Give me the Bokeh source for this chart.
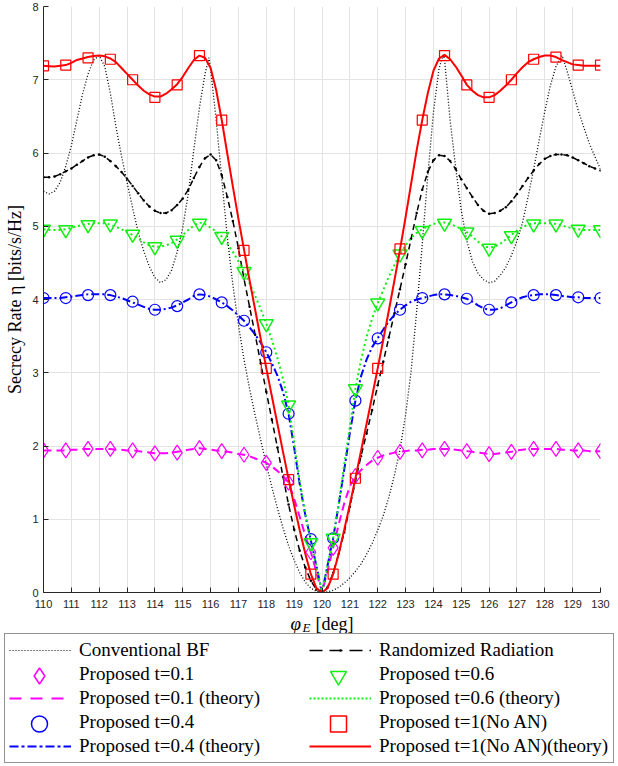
import numpy as np
from bokeh.plotting import figure
from bokeh.models import Range1d, Legend, LegendItem, Label, FixedTicker
from bokeh.embed import file_html
from bokeh.resources import INLINE

# ---------------- data ----------------
theory_deg = np.linspace(110, 130, 101)   # theory curves, 0.2 deg grid
marker_deg = np.linspace(110, 130, 26)    # simulation markers, 0.8 deg grid

conv_deg = [110.0, 110.2, 110.4, 110.6, 110.8, 111.0, 111.2, 111.4, 111.6, 111.8,
            112.0, 112.2, 112.4, 112.6, 112.8, 113.0, 113.2, 113.4, 113.6, 113.8,
            114.0, 114.2, 114.4, 114.6, 114.8, 115.0, 115.2, 115.4, 115.6, 115.8,
            115.94, 116.0, 116.2, 116.4, 116.6, 116.8, 117.0, 117.2, 117.4, 117.6,
            117.8, 118.0, 118.2, 118.4, 118.6, 118.8, 119.0, 119.2, 119.4, 119.6,
            119.8, 120.0, 120.2, 120.4, 120.6, 120.8, 121.0, 121.2, 121.4, 121.6,
            121.8, 122.0, 122.2, 122.4, 122.6, 122.8, 123.0, 123.2, 123.4, 123.6,
            123.8, 124.0, 124.2, 124.35, 124.4, 124.6, 124.8, 125.0, 125.2, 125.4,
            125.6, 125.8, 126.0, 126.2, 126.4, 126.6, 126.8, 127.0, 127.2, 127.4,
            127.6, 127.8, 128.0, 128.2, 128.4, 128.62, 128.8, 129.0, 129.2, 129.4,
            129.6, 129.8, 130.0]
conv_rate = [5.48, 5.44, 5.48, 5.60, 5.82, 6.10, 6.45, 6.80, 7.08, 7.27,
             7.33, 7.18, 6.82, 6.36, 5.96, 5.60, 5.25, 4.92, 4.66, 4.45,
             4.30, 4.23, 4.27, 4.40, 4.65, 4.98, 5.45, 6.05, 6.62, 7.08,
             7.30, 7.15, 6.45, 5.65, 4.85, 4.20, 3.65, 3.18, 2.78, 2.42,
             2.08, 1.75, 1.44, 1.15, 0.88, 0.64, 0.44, 0.27, 0.14, 0.06,
             0.015, 0.0, 0.01, 0.03, 0.07, 0.13, 0.20, 0.29, 0.39, 0.52,
             0.67, 0.85, 1.05, 1.30, 1.60, 1.95, 2.42, 3.02, 3.85, 4.75,
             5.70, 6.55, 7.15, 7.34, 7.28, 6.45, 5.80, 5.22, 4.80, 4.52,
             4.36, 4.27, 4.23, 4.25, 4.33, 4.44, 4.60, 4.80, 5.05, 5.40,
             5.78, 6.18, 6.57, 6.92, 7.18, 7.33, 7.12, 6.85, 6.58, 6.35,
             6.13, 5.95, 5.78]

rr_rate = [5.67, 5.67, 5.68, 5.71, 5.75, 5.79, 5.84, 5.89, 5.94, 5.97,
           5.98, 5.95, 5.89, 5.82, 5.74, 5.65, 5.55, 5.45, 5.35, 5.27,
           5.21, 5.18, 5.18, 5.22, 5.29, 5.38, 5.50, 5.66, 5.81, 5.93,
           5.98, 5.90, 5.70, 5.40, 5.07, 4.70, 4.28, 3.90, 3.52, 3.13,
           2.74, 2.36, 1.98, 1.58, 1.20, 0.86, 0.57, 0.34, 0.16, 0.04,
           0.00, 0.07, 0.27, 0.53, 0.82, 1.17, 1.52, 1.86, 2.17, 2.49,
           2.83, 3.15, 3.48, 3.81, 4.14, 4.48, 4.83, 5.18, 5.50, 5.74,
           5.90, 5.97, 5.96, 5.89, 5.78, 5.64, 5.52, 5.40, 5.29, 5.21,
           5.17, 5.18, 5.21, 5.26, 5.34, 5.44, 5.55, 5.66, 5.76, 5.85,
           5.92, 5.96, 5.98, 5.98, 5.97, 5.94, 5.90, 5.86, 5.82, 5.79,
           5.76]

t01_theory = [1.94, 1.94, 1.94, 1.94, 1.94, 1.95, 1.95, 1.96, 1.96, 1.96,
              1.96, 1.96, 1.96, 1.95, 1.95, 1.94, 1.94, 1.93, 1.92, 1.91,
              1.90, 1.90, 1.90, 1.91, 1.92, 1.93, 1.95, 1.96, 1.97, 1.96,
              1.95, 1.94, 1.93, 1.92, 1.91, 1.89, 1.88, 1.86, 1.83, 1.80,
              1.77, 1.72, 1.66, 1.59, 1.50, 1.28, 1.03, 0.78, 0.55, 0.28,
              0.00, 0.30, 0.61, 0.93, 1.22, 1.45, 1.59, 1.67, 1.74, 1.80,
              1.84, 1.87, 1.89, 1.91, 1.92, 1.93, 1.94, 1.94, 1.95, 1.95,
              1.96, 1.96, 1.96, 1.96, 1.95, 1.94, 1.93, 1.92, 1.91, 1.90,
              1.89, 1.89, 1.90, 1.91, 1.92, 1.94, 1.95, 1.96, 1.96, 1.96,
              1.96, 1.96, 1.96, 1.95, 1.95, 1.94, 1.94, 1.94, 1.93, 1.93,
              1.93]

t04_theory = [4.02, 4.02, 4.02, 4.02, 4.03, 4.04, 4.05, 4.06, 4.07, 4.07,
              4.07, 4.07, 4.06, 4.04, 4.02, 3.99, 3.96, 3.93, 3.90, 3.87,
              3.86, 3.86, 3.87, 3.89, 3.92, 3.96, 4.00, 4.05, 4.07, 4.06,
              4.04, 4.00, 3.96, 3.91, 3.85, 3.78, 3.71, 3.62, 3.52, 3.41,
              3.28, 3.13, 2.96, 2.74, 2.44, 1.98, 1.48, 1.06, 0.71, 0.36,
              0.00, 0.37, 0.74, 1.20, 1.68, 2.18, 2.62, 2.95, 3.18, 3.35,
              3.47, 3.59, 3.70, 3.79, 3.86, 3.92, 3.97, 4.00, 4.02, 4.04,
              4.06, 4.07, 4.07, 4.06, 4.05, 4.03, 4.01, 3.97, 3.92, 3.88,
              3.86, 3.86, 3.88, 3.92, 3.96, 4.00, 4.03, 4.05, 4.06, 4.07,
              4.07, 4.07, 4.06, 4.05, 4.04, 4.03, 4.03, 4.02, 4.02, 4.02,
              4.02]

t06_theory = [4.96, 4.95, 4.95, 4.95, 4.96, 4.98, 5.00, 5.02, 5.03, 5.04,
              5.04, 5.04, 5.02, 4.99, 4.96, 4.92, 4.88, 4.83, 4.78, 4.74,
              4.72, 4.72, 4.74, 4.77, 4.82, 4.88, 4.95, 5.01, 5.05, 5.03,
              4.98, 4.93, 4.86, 4.76, 4.65, 4.52, 4.38, 4.22, 4.05, 3.87,
              3.67, 3.45, 3.20, 2.92, 2.56, 2.05, 1.52, 1.08, 0.70, 0.35,
              0.00, 0.37, 0.74, 1.22, 1.75, 2.27, 2.78, 3.17, 3.49, 3.74,
              3.95, 4.13, 4.31, 4.47, 4.62, 4.74, 4.84, 4.91, 4.96, 5.00,
              5.03, 5.05, 5.05, 5.03, 5.00, 4.96, 4.92, 4.86, 4.79, 4.73,
              4.71, 4.72, 4.76, 4.82, 4.88, 4.94, 4.99, 5.02, 5.04, 5.04,
              5.04, 5.04, 5.03, 5.01, 4.99, 4.97, 4.96, 4.95, 4.95, 4.95,
              4.95]

t1_theory = [7.19, 7.185, 7.18, 7.19, 7.20, 7.23, 7.27, 7.29, 7.31, 7.325,
             7.33, 7.32, 7.29, 7.24, 7.16, 7.08, 7.00, 6.92, 6.85, 6.80,
             6.77, 6.77, 6.81, 6.87, 6.94, 7.04, 7.16, 7.27, 7.33, 7.30,
             7.16, 6.86, 6.45, 5.99, 5.54, 5.10, 4.68, 4.26, 3.86, 3.46,
             3.06, 2.68, 2.30, 1.92, 1.55, 1.19, 0.85, 0.53, 0.25, 0.06,
             0.00, 0.06, 0.25, 0.53, 0.86, 1.20, 1.56, 1.93, 2.30, 2.68,
             3.06, 3.45, 3.85, 4.26, 4.68, 5.12, 5.58, 6.04, 6.45, 6.82,
             7.12, 7.29, 7.34, 7.28, 7.18, 7.06, 6.93, 6.85, 6.79, 6.76,
             6.76, 6.79, 6.85, 6.92, 7.00, 7.09, 7.17, 7.24, 7.28, 7.31,
             7.33, 7.33, 7.31, 7.27, 7.24, 7.21, 7.20, 7.19, 7.19, 7.19,
             7.19]

t01_sim = [1.94, 1.94, 1.96, 1.96, 1.94, 1.90, 1.91, 1.97, 1.93, 1.88, 1.77, 1.50, 0.55,
           0.61, 1.59, 1.84, 1.92, 1.94, 1.96, 1.93, 1.89, 1.92, 1.96, 1.96, 1.94, 1.93]
t04_sim = [4.02, 4.02, 4.06, 4.06, 3.97, 3.86, 3.91, 4.07, 3.96, 3.71, 3.28, 2.44, 0.73,
           0.74, 2.62, 3.47, 3.86, 4.02, 4.07, 4.01, 3.86, 3.96, 4.06, 4.06, 4.03, 4.02]
t06_sim = [4.96, 4.95, 5.02, 5.03, 4.89, 4.72, 4.81, 5.04, 4.86, 4.38, 3.67, 2.56, 0.68,
           0.74, 2.78, 3.95, 4.62, 4.94, 5.04, 4.92, 4.70, 4.87, 5.03, 5.03, 4.96, 4.95]
t1_sim = [7.19, 7.20, 7.30, 7.28, 7.00, 6.76, 6.93, 7.33, 6.45, 4.67, 3.06, 1.54, 0.25,
          0.25, 1.56, 3.06, 4.69, 6.45, 7.33, 6.93, 6.76, 7.00, 7.28, 7.31, 7.20, 7.20]

x_ticks = list(range(110, 131))
y_ticks = list(range(0, 9))

labels = ["Conventional BF", "Proposed t=0.1", "Proposed t=0.1 (theory)",
          "Proposed t=0.4", "Proposed t=0.4 (theory)",
          "Randomized Radiation", "Proposed t=0.6", "Proposed t=0.6 (theory)",
          "Proposed t=1(No AN)", "Proposed t=1(No AN)(theory)"]

# ---------------- styles ----------------
MAG = "#ff00ff"
BLU = "#0000ff"
GRN = "#11ee11"
RED = "#ff0000"
AX = "#262626"
SERIF = "Liberation Serif"
W, H_MAIN, H_LEG = 618, 612, 154

# ---------------- main plot ----------------
p = figure(width=W, height=H_MAIN, x_range=Range1d(110, 130), y_range=Range1d(0, 8),
           output_backend="svg", toolbar_location=None,
           min_border_left=43, min_border_right=18, min_border_top=6, min_border_bottom=20)
p.outline_line_color = None
p.background_fill_color = "white"
p.border_fill_color = "white"

p.xaxis.ticker = FixedTicker(ticks=x_ticks)
p.yaxis.ticker = FixedTicker(ticks=y_ticks)
for ax in (p.xaxis[0], p.yaxis[0]):
    ax.axis_line_color = AX
    ax.axis_line_width = 1
    ax.major_tick_line_color = AX
    ax.major_tick_in = 5
    ax.major_tick_out = 0
    ax.minor_tick_line_color = None
    ax.major_label_text_font = "Liberation Sans"
    ax.major_label_text_font_size = "11px"
    ax.major_label_text_color = AX
p.xaxis.major_label_standoff = 7
p.yaxis.major_label_standoff = 5
p.yaxis.axis_label = "Secrecy Rate η [bits/s/Hz]"
p.yaxis.axis_label_text_font = SERIF
p.yaxis.axis_label_text_font_size = "18px"
p.yaxis.axis_label_text_font_style = "normal"
p.yaxis.axis_label_text_color = "black"
p.yaxis.axis_label_standoff = 4
p.xgrid.grid_line_color = "#e3e3e3"
p.ygrid.grid_line_color = "#e3e3e3"

p.line(conv_deg, conv_rate, line_color="black", line_width=1.3, line_dash="1 2")
p.line(theory_deg, rr_rate, line_color="black", line_width=1.5, line_dash="6 4")
p.scatter(theory_deg, rr_rate, marker="dot", size=10, line_color="black", fill_color="black")

p.line(theory_deg, t01_theory, line_color=MAG, line_width=2, line_dash="8 5")
p.scatter(marker_deg, t01_sim, marker="diamond", size=15, fill_color=None,
          line_color=MAG, line_width=1.2)
p.line(theory_deg, t04_theory, line_color=BLU, line_width=2, line_dash="8 3 2 3")
p.scatter(marker_deg, t04_sim, marker="circle", size=11, fill_color=None,
          line_color=BLU, line_width=1.2)
p.line(theory_deg, t06_theory, line_color=GRN, line_width=2, line_dash="2 3")
p.scatter(marker_deg, t06_sim, marker="inverted_triangle", size=14, fill_color=None,
          line_color=GRN, line_width=1.5)
p.line(theory_deg, t1_theory, line_color=RED, line_width=2)
p.scatter(marker_deg, t1_sim, marker="square", size=10, fill_color=None,
          line_color=RED, line_width=1.2)

# ---------------- x label + legend panel (separate root, full-width frame) ----------------
q = figure(width=W, height=H_LEG, x_range=Range1d(0, W), y_range=Range1d(H_LEG, 0),
           output_backend="svg", toolbar_location=None, min_border=0)
q.axis.visible = False
q.grid.visible = False
q.outline_line_color = None
q.background_fill_color = "white"
q.border_fill_color = "white"

q.add_layout(Label(x=290, y=11, text="φ", text_font=SERIF, text_font_style="italic",
                   text_font_size="19px", text_baseline="middle", text_color="black"))
q.add_layout(Label(x=302, y=15, text="E", text_font=SERIF, text_font_style="italic",
                   text_font_size="13px", text_baseline="middle", text_color="black"))
q.add_layout(Label(x=315, y=11, text="[deg]", text_font=SERIF,
                   text_font_size="18px", text_baseline="middle", text_color="black"))

# legend sample renderers (hidden; they carry the series data only for the legend)
r_conv = q.line(conv_deg, conv_rate, line_color="black", line_width=1.2, line_dash="1 2")
r_rr_l = q.line(theory_deg, rr_rate, line_color="black", line_width=1.5, line_dash="13 7")
r_rr_d = q.scatter(theory_deg, rr_rate, marker="dot", line_color="black", fill_color="black")
r_01t = q.line(theory_deg, t01_theory, line_color=MAG, line_width=2, line_dash="12 9")
r_04t = q.line(theory_deg, t04_theory, line_color=BLU, line_width=2, line_dash="9 3 3 3")
r_06t = q.line(theory_deg, t06_theory, line_color=GRN, line_width=2, line_dash="2 2")
r_1t = q.line(theory_deg, t1_theory, line_color=RED, line_width=2)
# placeholders for marker rows (labels only; big markers come from second legend)
r_01 = q.scatter(marker_deg, t01_sim, marker="diamond", fill_alpha=0, line_alpha=0)
r_04 = q.scatter(marker_deg, t04_sim, marker="circle", fill_alpha=0, line_alpha=0)
r_06 = q.scatter(marker_deg, t06_sim, marker="inverted_triangle", fill_alpha=0, line_alpha=0)
r_1 = q.scatter(marker_deg, t1_sim, marker="square", fill_alpha=0, line_alpha=0)
# big legend markers
m_01 = q.scatter(marker_deg, t01_sim, marker="diamond", fill_color=None, line_color=MAG, line_width=1.5)
m_04 = q.scatter(marker_deg, t04_sim, marker="circle", fill_color=None, line_color=BLU, line_width=1.5)
m_06 = q.scatter(marker_deg, t06_sim, marker="inverted_triangle", fill_color=None, line_color=GRN, line_width=1.5)
m_1 = q.scatter(marker_deg, t1_sim, marker="square", fill_color=None, line_color=RED, line_width=1.5)
for r in (r_conv, r_rr_l, r_rr_d, r_01t, r_04t, r_06t, r_1t, r_01, r_04, r_06, r_1,
          m_01, m_04, m_06, m_1):
    r.visible = False

rends = [[r_conv], [r_01], [r_01t], [r_04], [r_04t],
         [r_rr_l, r_rr_d], [r_06], [r_06t], [r_1], [r_1t]]
items = [LegendItem(label=lab, renderers=rr) for lab, rr in zip(labels, rends)]
# location tuple = offset of the legend's bottom-left corner from the frame's bottom-left
leg = Legend(items=items, ncols=2, location=(4, 3),
             padding=4, spacing=0, glyph_width=62, glyph_height=24, label_height=24,
             label_width=230, label_standoff=8, label_text_font=SERIF,
             label_text_font_size="19px", label_text_color="black",
             border_line_color=AX, border_line_width=1,
             background_fill_color="white", background_fill_alpha=1.0,
             click_policy="none")
q.add_layout(leg)

big_items = [LegendItem(label=" ", renderers=[m]) for m in (m_01, m_04, m_06, m_1)]
leg2 = Legend(items=big_items, ncols=2, location=(19, 19.5),
              padding=0, spacing=1, glyph_width=40, glyph_height=47, label_height=47,
              label_width=258, label_standoff=0, label_text_font_size="1px",
              border_line_color=None, background_fill_alpha=0.0, click_policy="none")
q.add_layout(leg2)

open("out.html", "w").write(file_html([p, q], INLINE))
